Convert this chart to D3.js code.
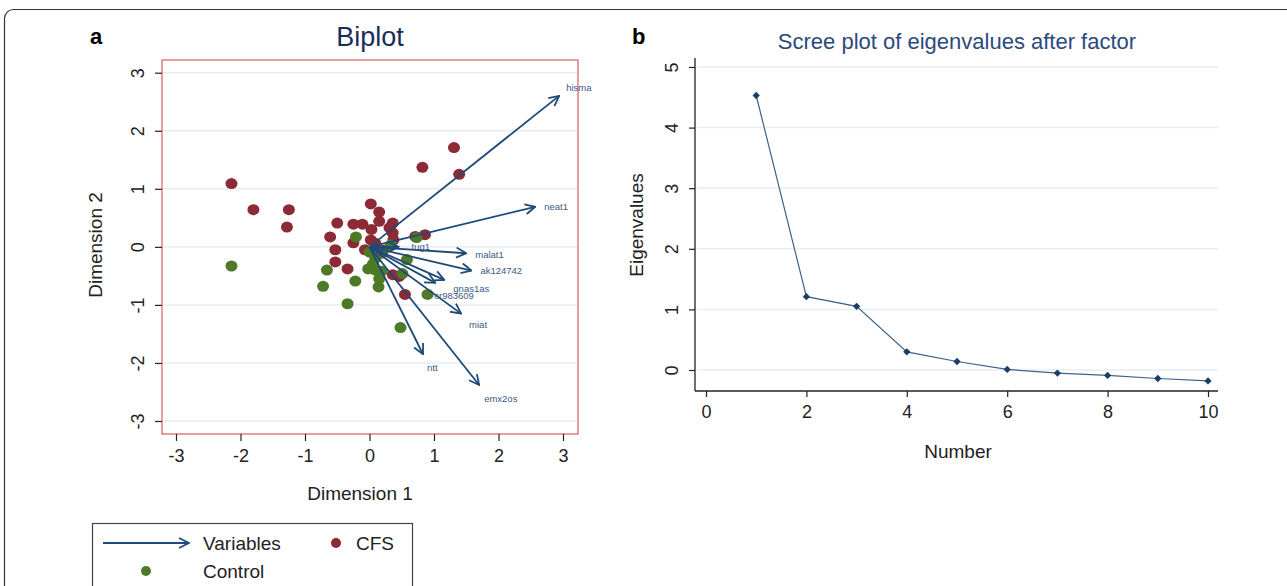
<!DOCTYPE html>
<html>
<head>
<meta charset="utf-8">
<script src="https://cdn.jsdelivr.net/npm/d3@7"></script>
<style>
  body { margin: 0; background: #fff; }
  svg { font-family: "Liberation Sans", Arial, sans-serif; }
</style>
</head>
<body>
<div id="chart"></div>
<script>
// ---- data ----
const cfsX = [1.31, 0.82, 1.39, -2.14, -1.80, -1.25, -1.28, 0.02, 0.15, 0.15, -0.50, -0.25, -0.11, 0.03,
  0.36, 0.31, 0.36, -0.61, -0.25, 0.02, 0.37, 0.71, 0.86, -0.53, -0.07, 0.21, -0.53, -0.34, 0.36, 0.46,
  0.55, 0.09];
const cfsY = [1.71, 1.37, 1.25, 1.09, 0.64, 0.64, 0.34, 0.74, 0.60, 0.44, 0.41, 0.39, 0.39, 0.30,
  0.41, 0.33, 0.24, 0.17, 0.07, 0.12, 0.12, 0.18, 0.21, -0.05, -0.05, -0.06, -0.26, -0.38, -0.48, -0.51,
  -0.82, 0.06];
const controlX = [-2.14, -0.21, 0.73, 0.33, 0.00, 0.19, 0.09, 0.58, -0.66, -0.02, 0.09, 0.19, 0.51,
  -0.22, 0.15, -0.72, 0.14, 0.90, -0.34, 0.48, 0.05];
const controlY = [-0.33, 0.17, 0.16, 0.03, -0.09, -0.11, -0.20, -0.22, -0.40, -0.38, -0.40, -0.42, -0.46,
  -0.59, -0.55, -0.68, -0.69, -0.82, -0.98, -1.39, -0.30];

const varNames = ["hisma", "neat1", "tug1", "malat1", "ak124742", "gnas1as", "cr983609", "miat", "ntt", "emx2os"];
const varX = [2.94, 2.57, 0.45, 1.50, 1.58, 1.16, 1.02, 1.42, 0.83, 1.70];
const varY = [2.60, 0.69, 0.00, -0.11, -0.41, -0.57, -0.62, -1.15, -1.85, -2.38];

const screeNumber = [1, 2, 3, 4, 5, 6, 7, 8, 9, 10];
const screeEigen = [4.53, 1.21, 1.05, 0.30, 0.14, 0.01, -0.05, -0.09, -0.14, -0.18];

const biplotTicks = [-3, -2, -1, 0, 1, 2, 3];
const screeXTicks = [0, 2, 4, 6, 8, 10];
const screeYTicks = [0, 1, 2, 3, 4, 5];

// label nudges (px) relative to arrow tips
const labelDx = [7, 9, 13, 9, 9, 9, -1, 8, 4, 5];
const labelDy = [-8, 0, 0, 1, 0, 9, 13, 11, 13, 14];

const RED = "#8c2a35", GREEN = "#4e7a28", NAVY = "#1f4a78";
const plainNum = (d) => String(d); // hyphen minus, like the original

const svg = d3.select("#chart").append("svg")
  .attr("width", 1287).attr("height", 586);

// outer panel border
svg.append("rect")
  .attr("x", 4.5).attr("y", 9.5).attr("width", 1320).attr("height", 620)
  .attr("rx", 9).attr("fill", "none").attr("stroke", "#333").attr("stroke-width", 1.2);

// panel letters
svg.append("text").attr("x", 90).attr("y", 44).attr("font-size", 22).attr("font-weight", "bold").text("a");
svg.append("text").attr("x", 632).attr("y", 44).attr("font-size", 22).attr("font-weight", "bold").text("b");

// ---------------- Biplot ----------------
const bx = d3.scaleLinear().domain([-3, 3]).range([176, 563]);
const by = d3.scaleLinear().domain([-3, 3]).range([421, 72.7]);
const frame = { left: 162, right: 578, top: 60, bottom: 434 };

svg.append("text")
  .attr("x", 370).attr("y", 46).attr("text-anchor", "middle")
  .attr("font-size", 27).attr("fill", "#1a2d5a").text("Biplot");

const bG = svg.append("g");
bG.selectAll("line.grid").data(biplotTicks).join("line")
  .attr("class", "grid")
  .attr("x1", frame.left).attr("x2", frame.right)
  .attr("y1", (d) => by(d)).attr("y2", (d) => by(d))
  .attr("stroke", "#e6eef2").attr("stroke-width", 1.5);

bG.append("rect")
  .attr("x", frame.left).attr("y", frame.top)
  .attr("width", frame.right - frame.left).attr("height", frame.bottom - frame.top)
  .attr("fill", "none").attr("stroke", "#d86a6a").attr("stroke-width", 1.3);

const bxAxis = svg.append("g")
  .attr("transform", `translate(0,${frame.bottom})`)
  .call(d3.axisBottom(bx).tickValues(biplotTicks).tickSize(7).tickPadding(8).tickFormat(plainNum));
const byAxis = svg.append("g")
  .attr("transform", `translate(${frame.left},0)`)
  .call(d3.axisLeft(by).tickValues(biplotTicks).tickSize(7).tickFormat(plainNum));
[bxAxis, byAxis].forEach((a) => {
  a.select(".domain").remove();
  a.selectAll("line").attr("stroke", "#222").attr("stroke-width", 1.2);
  a.selectAll("text").attr("font-size", 18).attr("fill", "#222").attr("font-family", "Liberation Sans, Arial, sans-serif");
});
byAxis.selectAll("text")
  .attr("transform", "rotate(-90)").attr("x", 0).attr("y", -18).attr("dy", 0)
  .attr("text-anchor", "middle");

svg.append("text").attr("x", 360).attr("y", 500).attr("text-anchor", "middle")
  .attr("font-size", 19).attr("fill", "#222").text("Dimension 1");
svg.append("text").attr("transform", "translate(102,245) rotate(-90)").attr("text-anchor", "middle")
  .attr("font-size", 19).attr("fill", "#222").text("Dimension 2");

// points
const cfs = cfsX.map((x, i) => ({ x, y: cfsY[i] }));
const control = controlX.map((x, i) => ({ x, y: controlY[i] }));

bG.append("g").selectAll("ellipse").data(cfs).join("ellipse")
  .attr("cx", (d) => bx(d.x)).attr("cy", (d) => by(d.y))
  .attr("rx", 6).attr("ry", 5.5).attr("fill", RED);
bG.append("g").selectAll("ellipse").data(control).join("ellipse")
  .attr("cx", (d) => bx(d.x)).attr("cy", (d) => by(d.y))
  .attr("rx", 6).attr("ry", 5.5).attr("fill", GREEN);

// arrows
svg.append("defs").append("marker")
  .attr("id", "head").attr("viewBox", "0 0 12 12")
  .attr("refX", 11).attr("refY", 6)
  .attr("markerWidth", 12).attr("markerHeight", 12)
  .attr("markerUnits", "userSpaceOnUse")
  .attr("orient", "auto")
  .append("path").attr("d", "M1,1 L11,6 L1,11")
  .attr("fill", "none").attr("stroke", NAVY).attr("stroke-width", 1.8);

const vars = varNames.map((name, i) => ({ name, x: varX[i], y: varY[i], dx: labelDx[i], dy: labelDy[i] }));
bG.append("g").selectAll("line").data(vars).join("line")
  .attr("x1", bx(0)).attr("y1", by(0))
  .attr("x2", (d) => bx(d.x)).attr("y2", (d) => by(d.y))
  .attr("stroke", NAVY).attr("stroke-width", 1.8)
  .attr("marker-end", "url(#head)");
bG.append("g").selectAll("text").data(vars).join("text")
  .attr("x", (d) => bx(d.x) + d.dx).attr("y", (d) => by(d.y) + d.dy)
  .attr("dy", "0.35em").attr("font-size", 9.5).attr("fill", "#3b5b86")
  .text((d) => d.name);

// legend
const lg = svg.append("g");
lg.append("rect").attr("x", 92.5).attr("y", 523.5).attr("width", 320).attr("height", 100)
  .attr("fill", "none").attr("stroke", "#444").attr("stroke-width", 1.2);
lg.append("line").attr("x1", 103).attr("x2", 189).attr("y1", 543).attr("y2", 543)
  .attr("stroke", NAVY).attr("stroke-width", 1.8).attr("marker-end", "url(#head)");
lg.append("text").attr("x", 203).attr("y", 543).attr("dy", "0.35em").attr("font-size", 19).attr("fill", "#222").text("Variables");
lg.append("circle").attr("cx", 336).attr("cy", 543).attr("r", 5).attr("fill", RED);
lg.append("text").attr("x", 356).attr("y", 543).attr("dy", "0.35em").attr("font-size", 19).attr("fill", "#222").text("CFS");
lg.append("circle").attr("cx", 146).attr("cy", 571).attr("r", 5).attr("fill", GREEN);
lg.append("text").attr("x", 203).attr("y", 571).attr("dy", "0.35em").attr("font-size", 19).attr("fill", "#222").text("Control");

// ---------------- Scree plot ----------------
const sx = d3.scaleLinear().domain([0, 10]).range([706, 1208]);
const sy = d3.scaleLinear().domain([0, 5]).range([370, 67]);
const sFrame = { left: 695, right: 1218, top: 58, bottom: 391 };

svg.append("text").attr("x", 957).attr("y", 49).attr("text-anchor", "middle")
  .attr("font-size", 22).attr("fill", "#2b4a7c").text("Scree plot of eigenvalues after factor");

const sG = svg.append("g");
sG.selectAll("line.grid").data(screeYTicks).join("line")
  .attr("class", "grid")
  .attr("x1", sFrame.left + 2).attr("x2", sFrame.right)
  .attr("y1", (d) => sy(d)).attr("y2", (d) => sy(d))
  .attr("stroke", "#e6eef2").attr("stroke-width", 1.5);

const sxAxis = svg.append("g")
  .attr("transform", `translate(0,${sFrame.bottom})`)
  .call(d3.axisBottom(sx).tickValues(screeXTicks).tickSize(6).tickPadding(8).tickFormat(plainNum));
const syAxis = svg.append("g")
  .attr("transform", `translate(${sFrame.left},0)`)
  .call(d3.axisLeft(sy).tickValues(screeYTicks).tickSize(6).tickFormat(plainNum));
[sxAxis, syAxis].forEach((a) => {
  a.select(".domain").remove();
  a.selectAll("line").attr("stroke", "#222").attr("stroke-width", 1.2);
  a.selectAll("text").attr("font-size", 18).attr("fill", "#222").attr("font-family", "Liberation Sans, Arial, sans-serif");
});
syAxis.selectAll("text")
  .attr("transform", "rotate(-90)").attr("x", 0).attr("y", -17).attr("dy", 0)
  .attr("text-anchor", "middle");

sG.append("line").attr("x1", sFrame.left).attr("x2", sFrame.left)
  .attr("y1", sFrame.top).attr("y2", sFrame.bottom).attr("stroke", "#222").attr("stroke-width", 1.3);
sG.append("line").attr("x1", sFrame.left).attr("x2", sFrame.right)
  .attr("y1", sFrame.bottom).attr("y2", sFrame.bottom).attr("stroke", "#222").attr("stroke-width", 1.3);

svg.append("text").attr("x", 958).attr("y", 458).attr("text-anchor", "middle")
  .attr("font-size", 19).attr("fill", "#222").text("Number");
svg.append("text").attr("transform", "translate(643,225) rotate(-90)").attr("text-anchor", "middle")
  .attr("font-size", 19).attr("fill", "#222").text("Eigenvalues");

const scree = screeNumber.map((n, i) => ({ n, v: screeEigen[i] }));
sG.append("path").datum(scree)
  .attr("fill", "none").attr("stroke", "#3e6288").attr("stroke-width", 1.2)
  .attr("d", d3.line().x((d) => sx(d.n)).y((d) => sy(d.v)));
sG.append("g").selectAll("path").data(scree).join("path")
  .attr("transform", (d) => `translate(${sx(d.n)},${sy(d.v)})`)
  .attr("d", d3.symbol().type(d3.symbolDiamond2).size(34))
  .attr("fill", "#1c3d64");
</script>
</body>
</html>
